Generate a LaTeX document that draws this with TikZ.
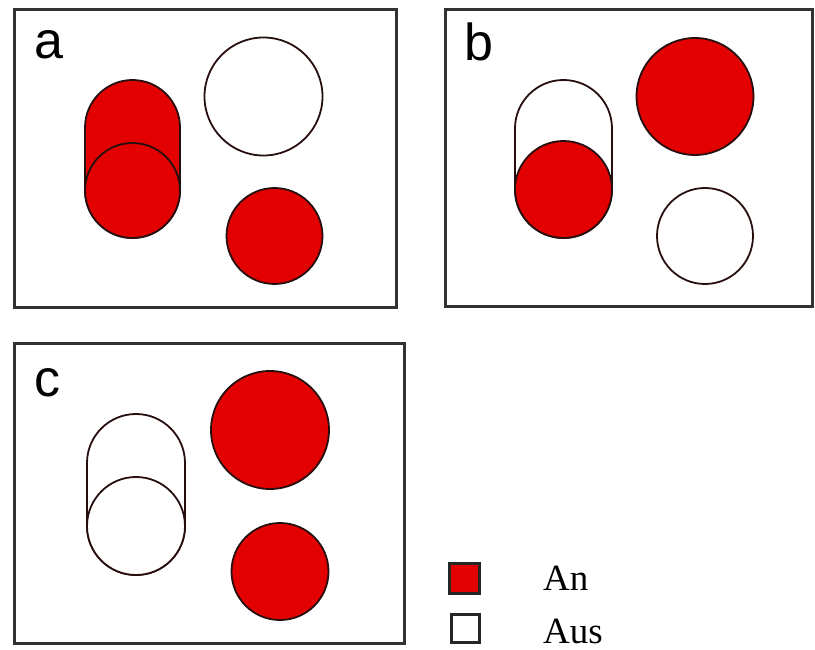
\documentclass[tikz,border=0pt]{standalone}
\usepackage{fontspec}
\setmainfont{Liberation Serif}
\newfontfamily\labelfont{Liberation Sans}
\definecolor{onred}{RGB}{226,0,0}
\definecolor{rim}{RGB}{40,15,15}
\definecolor{frame}{RGB}{50,50,50}
\begin{document}
\begin{tikzpicture}[x=1pt,y=-1pt,
 panel/.style={draw=frame,line width=3pt},
 lamp/.style={circle,draw=rim,line width=1.8pt,inner sep=0pt,minimum size=#1},
 onfill/.style={fill=onred},
 offfill/.style={fill=white},
 capsule/.style={draw=rim,line width=1.8pt,rounded corners=#1},
 letter/.style={font=\labelfont\fontsize{52}{52}\selectfont,anchor=base west,inner sep=0pt},
 legtext/.style={font=\fontsize{37}{37}\selectfont,anchor=base west,inner sep=0pt},
 legbox/.style={draw=black!85,line width=3pt,minimum size=#1,inner sep=0pt}]
\useasboundingbox (0,0) rectangle (815,650);
% panels
\draw[panel] (14,10) rectangle (396,307);
\draw[panel] (445,10) rectangle (812,306);
\draw[panel] (14,343) rectangle (404,643);
% labels
\node[letter] (la) at (34,59) {a};
\node[letter] (lb) at (464,61) {b};
\node[letter] (lc) at (34,396) {c};
% panel a
\draw[capsule=47.5pt,onfill] (85,80) rectangle (180,238);
\node[lamp=95pt,onfill] (a1) at (132.5,190.5) {};
\node[lamp=118pt,offfill] (a2) at (263.5,96.5) {};
\node[lamp=96pt,onfill] (a3) at (274.5,236) {};
% panel b
\draw[capsule=48.5pt,offfill] (515,80) rectangle (612,238);
\node[lamp=97pt,onfill] (b1) at (563.5,189.5) {};
\node[lamp=117pt,onfill] (b2) at (695,96.5) {};
\node[lamp=96pt,offfill] (b3) at (705,236) {};
% panel c
\draw[capsule=49pt,offfill] (87,414) rectangle (185,575);
\node[lamp=98pt,offfill] (c1) at (136,526) {};
\node[lamp=118pt,onfill] (c2) at (270,430) {};
\node[lamp=97pt,onfill] (c3) at (280,571.5) {};
% legend
\node[legbox=30pt,onfill] (kon) at (464,578) {};
\node[legbox=28pt,offfill] (koff) at (465,628) {};
\node[legtext] (ton) at (543,590) {An};
\node[legtext] (toff) at (543,643) {Aus};
\end{tikzpicture}
\end{document}
